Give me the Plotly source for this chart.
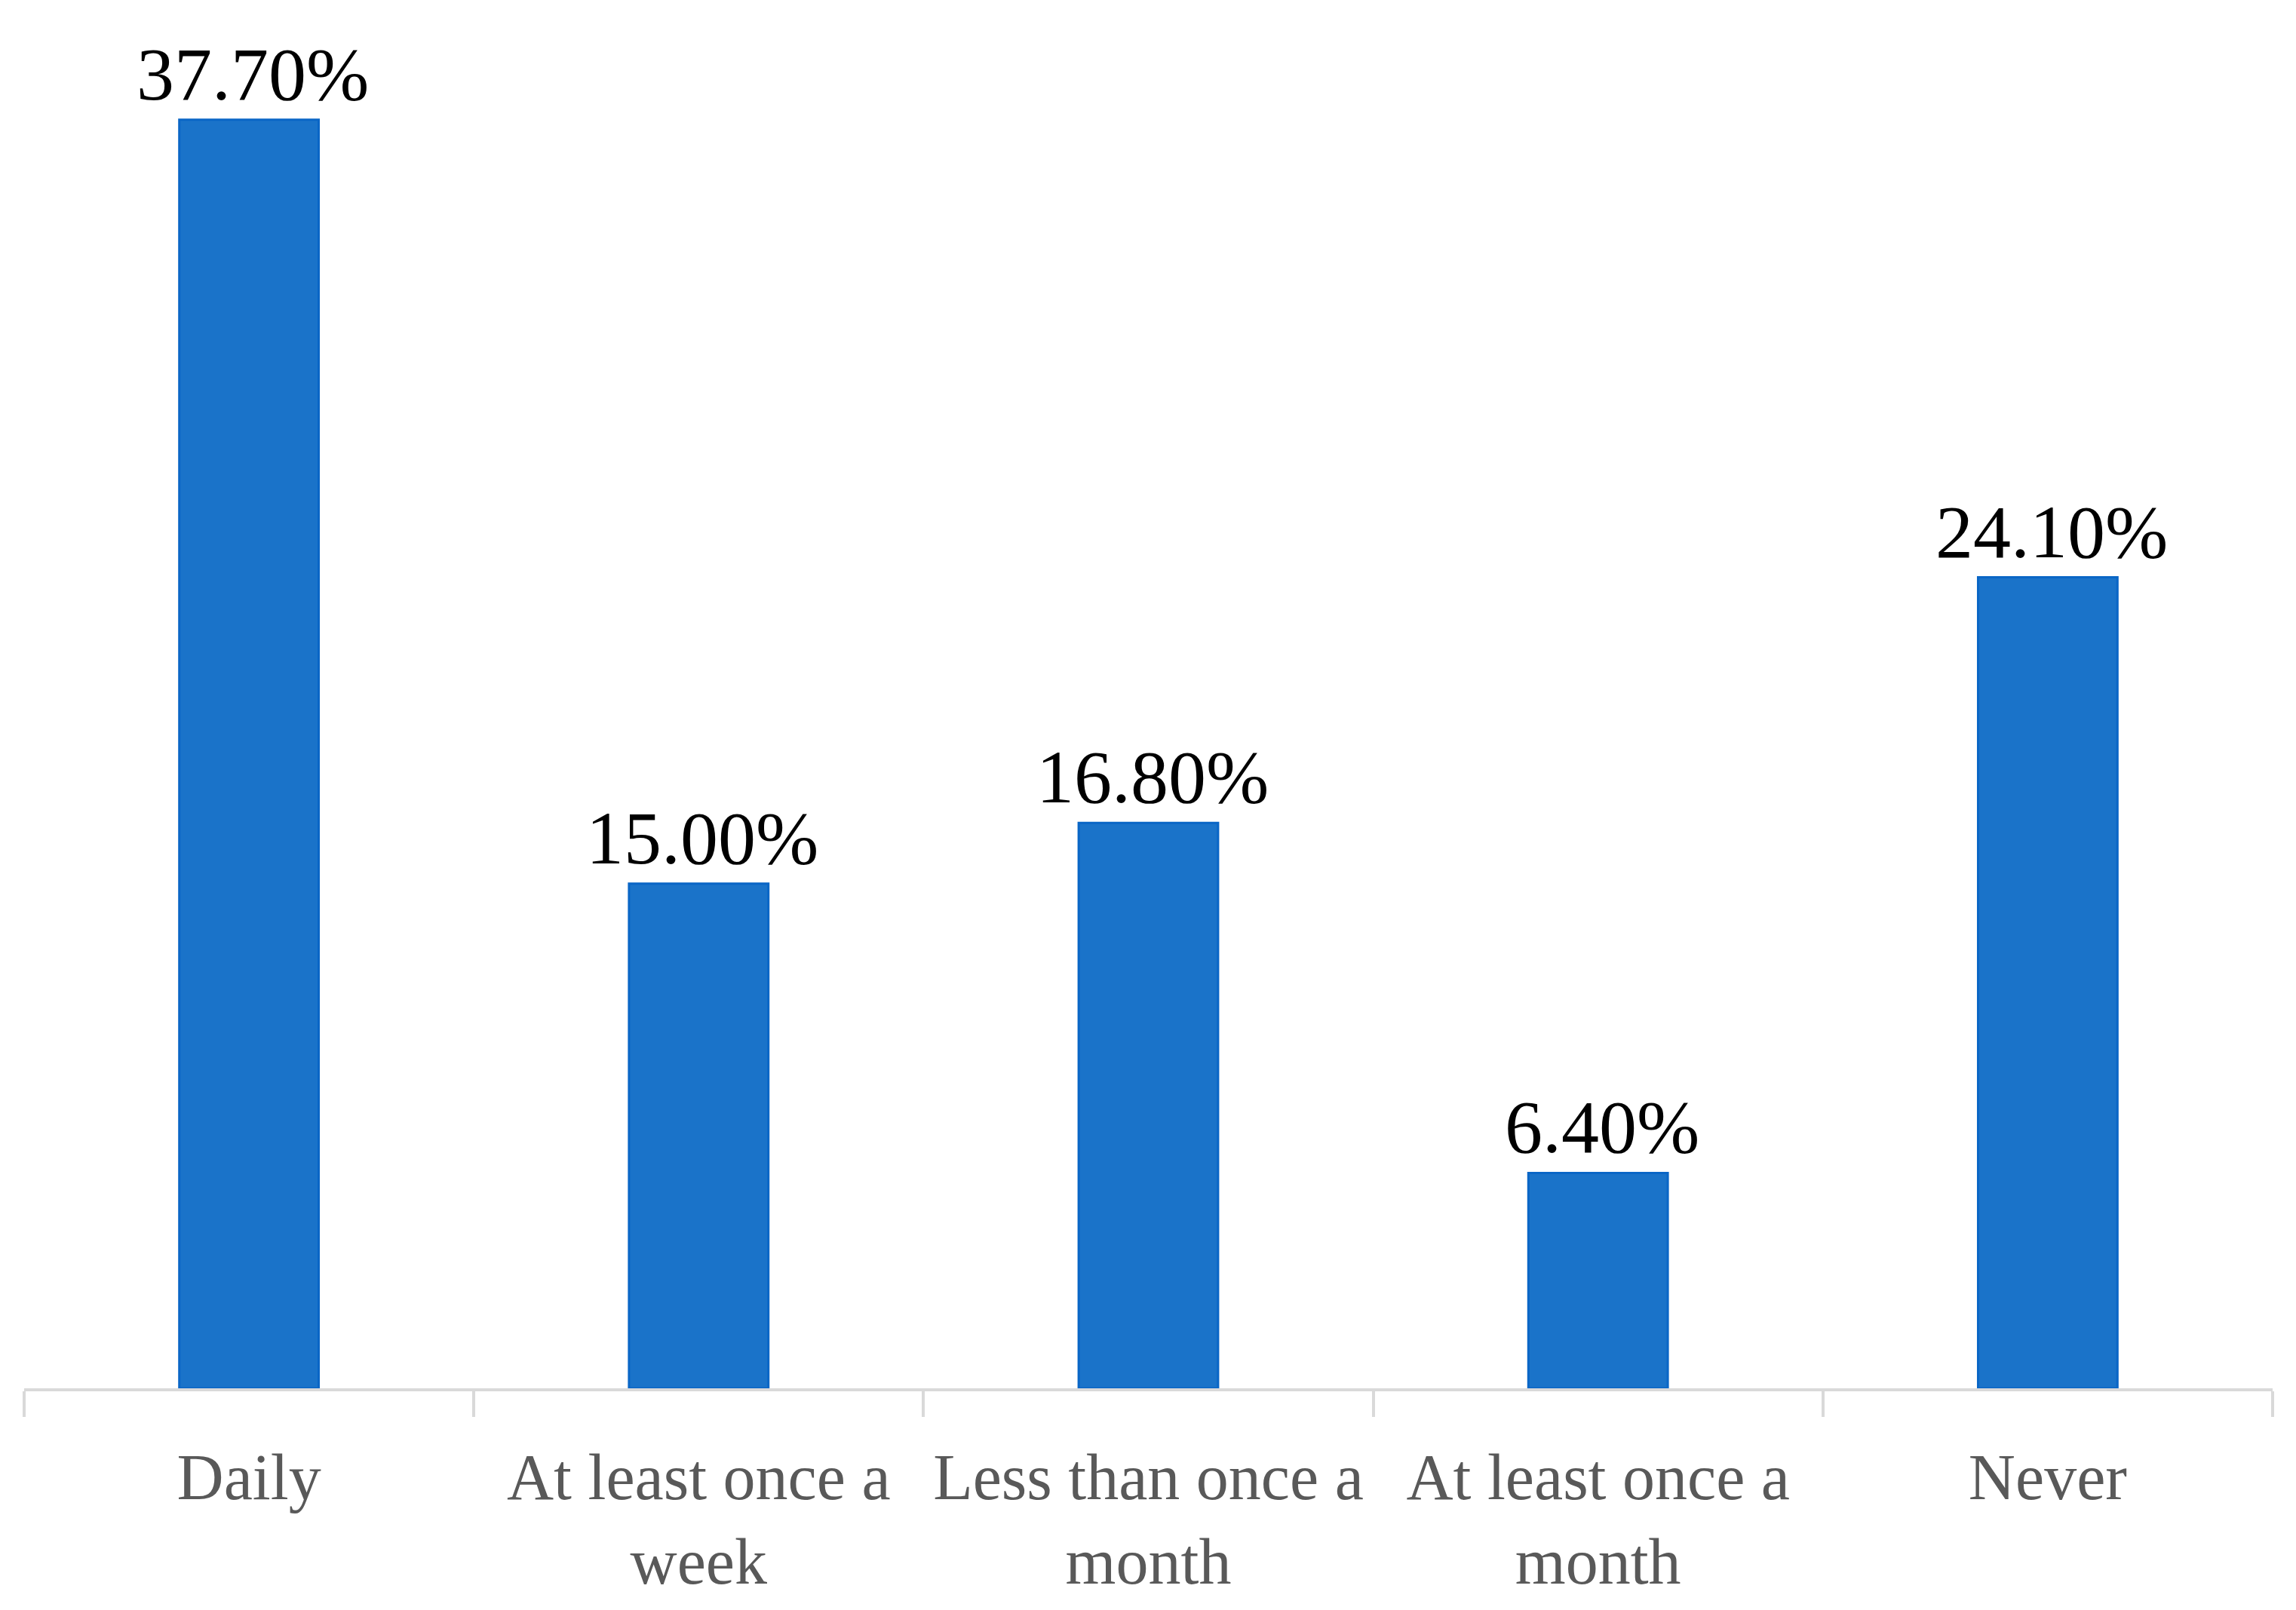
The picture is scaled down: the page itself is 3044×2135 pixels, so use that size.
import plotly.graph_objects as go

categories = ["Daily", "At least once a<br>week", "Less than once a<br>month",
              "At least once a<br>month", "Never"]
values = [37.70, 15.00, 16.80, 6.40, 24.10]
labels = ["37.70%", "15.00%", "16.80%", "6.40%", "24.10%"]

fig = go.Figure()
fig.add_trace(go.Bar(
    x=categories, y=values,
    marker=dict(color="#1A73C9", line=dict(color="#0A66C6", width=3)),
    width=0.31,
    showlegend=False,
    hoverinfo="skip",
))

for c, v, t in zip(categories, values, labels):
    fig.add_annotation(x=c, y=v, text=t, showarrow=False, yanchor="bottom",
                       xshift=5, yshift=3,
                       font=dict(family="Liberation Serif", size=100, color="#000000"))

fig.update_layout(
    width=3044, height=2135,
    margin=dict(l=24, r=39, t=48, b=302),
    paper_bgcolor="white", plot_bgcolor="white",
)
fig.update_xaxes(
    showline=True, linecolor="#D9D9D9", linewidth=4,
    ticks="outside", tickson="boundaries", ticklen=34, tickwidth=4, tickcolor="#D9D9D9",
    tickfont=dict(family="Liberation Serif", size=86, color="#595959"),
    ticklabelstandoff=40,
    showgrid=False,
)
fig.update_yaxes(range=[0, 40], visible=False, showgrid=False)

fig.write_html("out.html")
